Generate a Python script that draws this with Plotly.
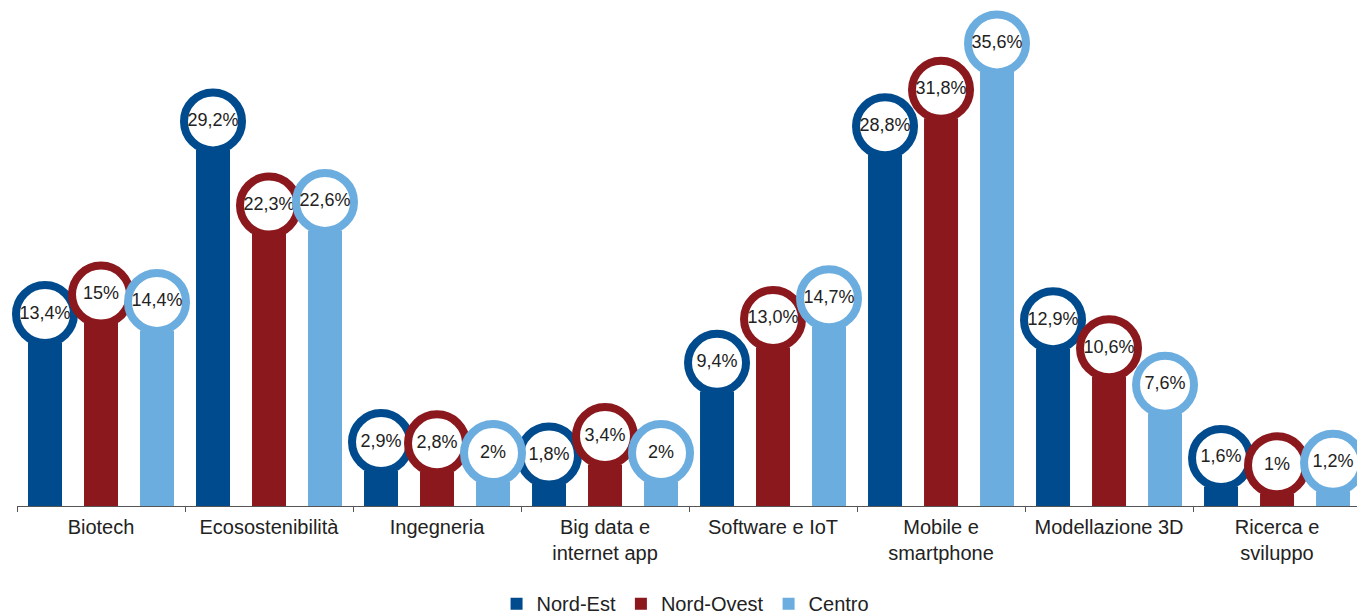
import plotly.graph_objects as go

categories = ["Biotech", "Ecosostenibilità", "Ingegneria", "Big data e<br>internet app",
              "Software e IoT", "Mobile e<br>smartphone", "Modellazione 3D", "Ricerca e<br>sviluppo"]
series_names = ["Nord-Est", "Nord-Ovest", "Centro"]
nord_est = [13.4, 29.2, 2.9, 1.8, 9.4, 28.8, 12.9, 1.6]
nord_ovest = [15.0, 22.3, 2.8, 3.4, 13.0, 31.8, 10.6, 1.0]
centro = [14.4, 22.6, 2.0, 2.0, 14.7, 35.6, 7.6, 1.2]
labels_nord_est = ["13,4%", "29,2%", "2,9%", "1,8%", "9,4%", "28,8%", "12,9%", "1,6%"]
labels_nord_ovest = ["15%", "22,3%", "2,8%", "3,4%", "13,0%", "31,8%", "10,6%", "1%"]
labels_centro = ["14,4%", "22,6%", "2%", "2%", "14,7%", "35,6%", "7,6%", "1,2%"]
colors = ["#004B8D", "#8B181D", "#6CADDF"]

# circle badge sits above the top of each bar
BADGE_LIFT = 2.34

fig = go.Figure()
all_vals = [nord_est, nord_ovest, centro]
all_labels = [labels_nord_est, labels_nord_ovest, labels_centro]

for name, vals, col in zip(series_names, all_vals, colors):
    fig.add_trace(go.Bar(x=categories, y=vals, name=name, marker=dict(color=col, line=dict(width=0)),
                         offsetgroup=name, legendgroup=name, hoverinfo="skip"))

for name, vals, labs, col in zip(series_names, all_vals, all_labels, colors):
    fig.add_trace(go.Scatter(x=categories, y=[v + BADGE_LIFT for v in vals], mode="markers+text",
                             text=labs, textposition="middle center",
                             textfont=dict(size=18, color="#222222", family="Liberation Sans, Arial, sans-serif"),
                             marker=dict(size=58, color="white", line=dict(color=col, width=8)),
                             offsetgroup=name, legendgroup=name, showlegend=False, cliponaxis=False,
                             hoverinfo="skip"))

fig.update_layout(
    width=1357, height=616,
    margin=dict(l=17, r=0, t=0, b=110, autoexpand=False),
    paper_bgcolor="white", plot_bgcolor="white",
    barmode="group", bargap=0.0, bargroupgap=0.393,
    scattermode="group", scattergap=0.0,
    font=dict(family="Liberation Sans, Arial, sans-serif", color="#222222", size=20),
    showlegend=True,
    legend=dict(orientation="h", x=0.5052, xanchor="center", xref="container",
                y=0.02, yanchor="middle", yref="container",
                font=dict(size=20, color="#222222"), itemsizing="constant", traceorder="normal"),
    xaxis=dict(type="category", range=[-0.5, 7.476], showline=True, linecolor="#555555", linewidth=1,
               ticks="outside", tickson="boundaries", ticklen=5, tickcolor="#555555",
               ticklabelstandoff=3, automargin=False,
               showgrid=False, tickfont=dict(size=20, color="#222222")),
    yaxis=dict(range=[0, 41.5], visible=False, showgrid=False, zeroline=False),
)

fig.write_html("out.html", config={"displayModeBar": False},
               post_script="document.body.style.margin='0';document.body.style.overflow='hidden';")
